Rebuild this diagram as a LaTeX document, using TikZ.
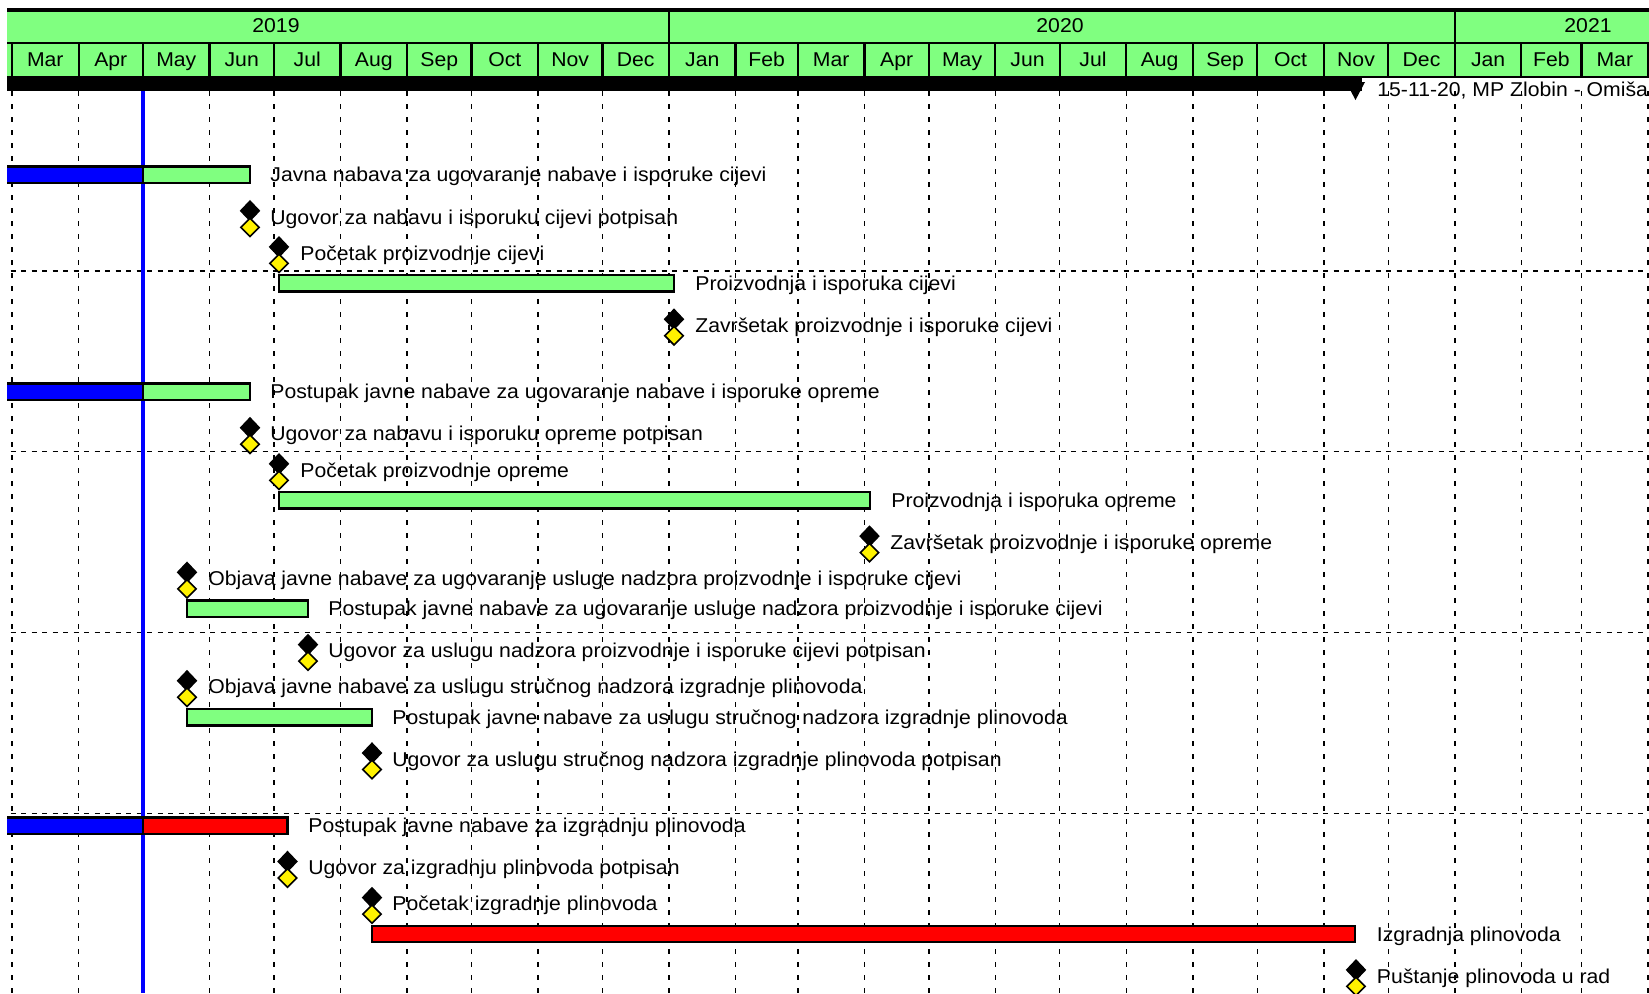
\documentclass[tikz,border=0pt]{standalone}
\usepackage{fontspec}
\setmainfont{Liberation Sans}[FakeStretch=1.06]
\usetikzlibrary{shapes.geometric}
\definecolor{planGreen}{RGB}{128,255,128}

\begin{document}
\begin{tikzpicture}[x = 0.5pt, y = -0.5pt,
  font = \fontsize{10pt}{12pt}\selectfont,
  monthline/.style = {line width = 0.7pt, dash pattern = on 2.25pt off 4.25pt},
  rowline/.style = {line width = 0.7pt, dash pattern = on 2.5pt off 2.75pt},
  hdrline/.style = {line width = 1.1pt},
  okbar/.style = {draw, line width = 1.2pt, fill = planGreen},
  donebar/.style = {draw, line width = 1.2pt, fill = blue},
  critbar/.style = {draw, line width = 1.2pt, fill = red},
  msup/.style = {shape = diamond, draw, line width = 0.8pt, fill = black, inner sep = 0pt, minimum width = 9.5pt, minimum height = 10pt},
  msdown/.style = {shape = diamond, draw, line width = 0.8pt, fill = yellow, inner sep = 0pt, minimum width = 9.5pt, minimum height = 9.5pt},
  txt/.style = {anchor = base west, inner sep = 0pt},
  hdr/.style = {anchor = base, inner sep = 0pt}]

\useasboundingbox (0,0) rectangle (1649,993);
\begin{scope}
\clip (7,8) rectangle (1649,993);

\draw [monthline] (12,91) -- (12,993) (78.6,91) -- (78.6,993) (209.5,91) -- (209.5,993) (273.9,91) -- (273.9,993) (340.5,91) -- (340.5,993) (407,91) -- (407,993) (471.5,91) -- (471.5,993) (538,91) -- (538,993) (602.4,91) -- (602.4,993) (669,91) -- (669,993) (735.5,91) -- (735.5,993) (797.8,91) -- (797.8,993) (864.4,91) -- (864.4,993) (928.8,91) -- (928.8,993) (995.3,91) -- (995.3,993) (1059.7,91) -- (1059.7,993) (1126.3,91) -- (1126.3,993) (1192.9,91) -- (1192.9,993) (1257.3,91) -- (1257.3,993) (1323.8,91) -- (1323.8,993) (1388.2,91) -- (1388.2,993) (1454.8,91) -- (1454.8,993) (1521.3,91) -- (1521.3,993) (1581.5,91) -- (1581.5,993) (1648,91) -- (1648,993);
\draw [rowline] (0,271) -- (1649,271) (0,451.75) -- (1649,451.75) (0,632.5) -- (1649,632.5) (0,813.25) -- (1649,813.25);
\draw [line width = 1.6pt, blue] (143,90) -- (143,993);

\draw [donebar] (0,166.5) rectangle (143,183);
\draw [okbar] (143,166.5) rectangle (250,183);
\node [txt] (t1) at (270,181.8) {Javna nabava za ugovaranje nabave i isporuke cijevi};

\node [msup] (m2a) at (250,210.8) {};
\node [msdown] (m2b) at (250,227.3) {};
\node [txt] (t2) at (270,224) {Ugovor za nabavu i isporuku cijevi potpisan};

\node [msup] (m3a) at (279,246.9) {};
\node [msdown] (m3b) at (279,263.4) {};
\node [txt] (t3) at (300,260.1) {Početak proizvodnje cijevi};

\draw [okbar] (279,275) rectangle (674,291.5);
\node [txt] (t4) at (695,290.3) {Proizvodnja i isporuka cijevi};

\node [msup] (m5a) at (674,319.2) {};
\node [msdown] (m5b) at (674,335.7) {};
\node [txt] (t5) at (695,332.4) {Završetak proizvodnje i isporuke cijevi};

\draw [donebar] (0,383.5) rectangle (143,400);
\draw [okbar] (143,383.5) rectangle (250,400);
\node [txt] (t7) at (270,398.7) {Postupak javne nabave za ugovaranje nabave i isporuke opreme};

\node [msup] (m8a) at (250,427.7) {};
\node [msdown] (m8b) at (250,444.2) {};
\node [txt] (t8) at (270,440.9) {Ugovor za nabavu i isporuku opreme potpisan};

\node [msup] (m9a) at (279,463.8) {};
\node [msdown] (m9b) at (279,480.3) {};
\node [txt] (t9) at (300,477) {Početak proizvodnje opreme};

\draw [okbar] (279,491.9) rectangle (870,508.4);
\node [txt] (t10) at (891,507.2) {Proizvodnja i isporuka opreme};

\node [msup] (m11a) at (869.5,536.1) {};
\node [msdown] (m11b) at (869.5,552.6) {};
\node [txt] (t11) at (890,549.3) {Završetak proizvodnje i isporuke opreme};

\node [msup] (m12a) at (187,572.3) {};
\node [msdown] (m12b) at (187,588.8) {};
\node [txt] (t12) at (208,585.5) {Objava javne nabave za ugovaranje usluge nadzora proizvodnje i isporuke cijevi};

\draw [okbar] (187,600.4) rectangle (308,616.9);
\node [txt] (t13) at (328,615.6) {Postupak javne nabave za ugovaranje usluge nadzora proizvodnje i isporuke cijevi};

\node [msup] (m14a) at (308,644.6) {};
\node [msdown] (m14b) at (308,661.1) {};
\node [txt] (t14) at (328,657.8) {Ugovor za uslugu nadzora proizvodnje i isporuke cijevi potpisan};

\node [msup] (m15a) at (187,680.7) {};
\node [msdown] (m15b) at (187,697.2) {};
\node [txt] (t15) at (208,693.9) {Objava javne nabave za uslugu stručnog nadzora izgradnje plinovoda};

\draw [okbar] (187,708.8) rectangle (372,725.3);
\node [txt] (t16) at (392,724) {Postupak javne nabave za uslugu stručnog nadzora izgradnje plinovoda};

\node [msup] (m17a) at (372,753) {};
\node [msdown] (m17b) at (372,769.5) {};
\node [txt] (t17) at (392,766.2) {Ugovor za uslugu stručnog nadzora izgradnje plinovoda potpisan};

\draw [donebar] (0,817.3) rectangle (143,833.8);
\draw [critbar] (143,817.3) rectangle (287.5,833.8);
\node [txt] (t19) at (308,832.5) {Postupak javne nabave za izgradnju plinovoda};

\node [msup] (m20a) at (287.5,861.5) {};
\node [msdown] (m20b) at (287.5,878) {};
\node [txt] (t20) at (308,874.7) {Ugovor za izgradnju plinovoda potpisan};

\node [msup] (m21a) at (372,897.6) {};
\node [msdown] (m21b) at (372,914.1) {};
\node [txt] (t21) at (392,910.8) {Početak izgradnje plinovoda};

\draw [critbar] (372,925.7) rectangle (1355,942.2);
\node [txt] (t22) at (1376.5,941) {Izgradnja plinovoda};

\node [msup] (m23a) at (1356,969.9) {};
\node [msdown] (m23b) at (1356,986.4) {};
\node [txt] (t23) at (1376.5,983.1) {Puštanje plinovoda u rad};

\fill [planGreen] (0,11) rectangle (1649,77);
\fill (0,8) rectangle (1649,11.5);
\draw [hdrline] (0,43) -- (1649,43) (0,77) -- (1649,77);
\draw [hdrline] (669,11) -- (669,43) (1454.8,11) -- (1454.8,43);
\draw [hdrline] (12,43) -- (12,77) (78.6,43) -- (78.6,77) (143,43) -- (143,77) (209.5,43) -- (209.5,77) (273.9,43) -- (273.9,77) (340.5,43) -- (340.5,77) (407,43) -- (407,77) (471.5,43) -- (471.5,77) (538,43) -- (538,77) (602.4,43) -- (602.4,77) (669,43) -- (669,77) (735.5,43) -- (735.5,77) (797.8,43) -- (797.8,77) (864.4,43) -- (864.4,77) (928.8,43) -- (928.8,77) (995.3,43) -- (995.3,77) (1059.7,43) -- (1059.7,77) (1126.3,43) -- (1126.3,77) (1192.9,43) -- (1192.9,77) (1257.3,43) -- (1257.3,77) (1323.8,43) -- (1323.8,77) (1388.2,43) -- (1388.2,77) (1454.8,43) -- (1454.8,77) (1521.3,43) -- (1521.3,77) (1581.5,43) -- (1581.5,77) (1648,43) -- (1648,77);

\node [hdr] (y2019) at (276,32) {2019};
\node [hdr] (y2020) at (1060,32) {2020};
\node [hdr] (y2021) at (1588,32) {2021};

\node [hdr] (mar19) at (45.3,66) {Mar};
\node [hdr] (apr19) at (110.8,66) {Apr};
\node [hdr] (may19) at (176.3,66) {May};
\node [hdr] (jun19) at (241.7,66) {Jun};
\node [hdr] (jul19) at (307.2,66) {Jul};
\node [hdr] (aug19) at (373.8,66) {Aug};
\node [hdr] (sep19) at (439.3,66) {Sep};
\node [hdr] (oct19) at (504.8,66) {Oct};
\node [hdr] (nov19) at (570.2,66) {Nov};
\node [hdr] (dec19) at (635.7,66) {Dec};
\node [hdr] (jan20) at (702.3,66) {Jan};
\node [hdr] (feb20) at (766.7,66) {Feb};
\node [hdr] (mar20) at (831.1,66) {Mar};
\node [hdr] (apr20) at (896.6,66) {Apr};
\node [hdr] (may20) at (962.1,66) {May};
\node [hdr] (jun20) at (1027.5,66) {Jun};
\node [hdr] (jul20) at (1093,66) {Jul};
\node [hdr] (aug20) at (1159.6,66) {Aug};
\node [hdr] (sep20) at (1225.1,66) {Sep};
\node [hdr] (oct20) at (1290.6,66) {Oct};
\node [hdr] (nov20) at (1356,66) {Nov};
\node [hdr] (dec20) at (1421.5,66) {Dec};
\node [hdr] (jan21) at (1488.1,66) {Jan};
\node [hdr] (feb21) at (1551.4,66) {Feb};
\node [hdr] (mar21) at (1614.8,66) {Mar};

\fill (0,77) rectangle (1362,91);
\fill (1346,82) -- (1365,82) -- (1355.5,100) -- cycle;
\node [txt] (summary) at (1377,96) {15-11-20, MP Zlobin - Omišalj};
\end{scope}

\end{tikzpicture}
\end{document}
